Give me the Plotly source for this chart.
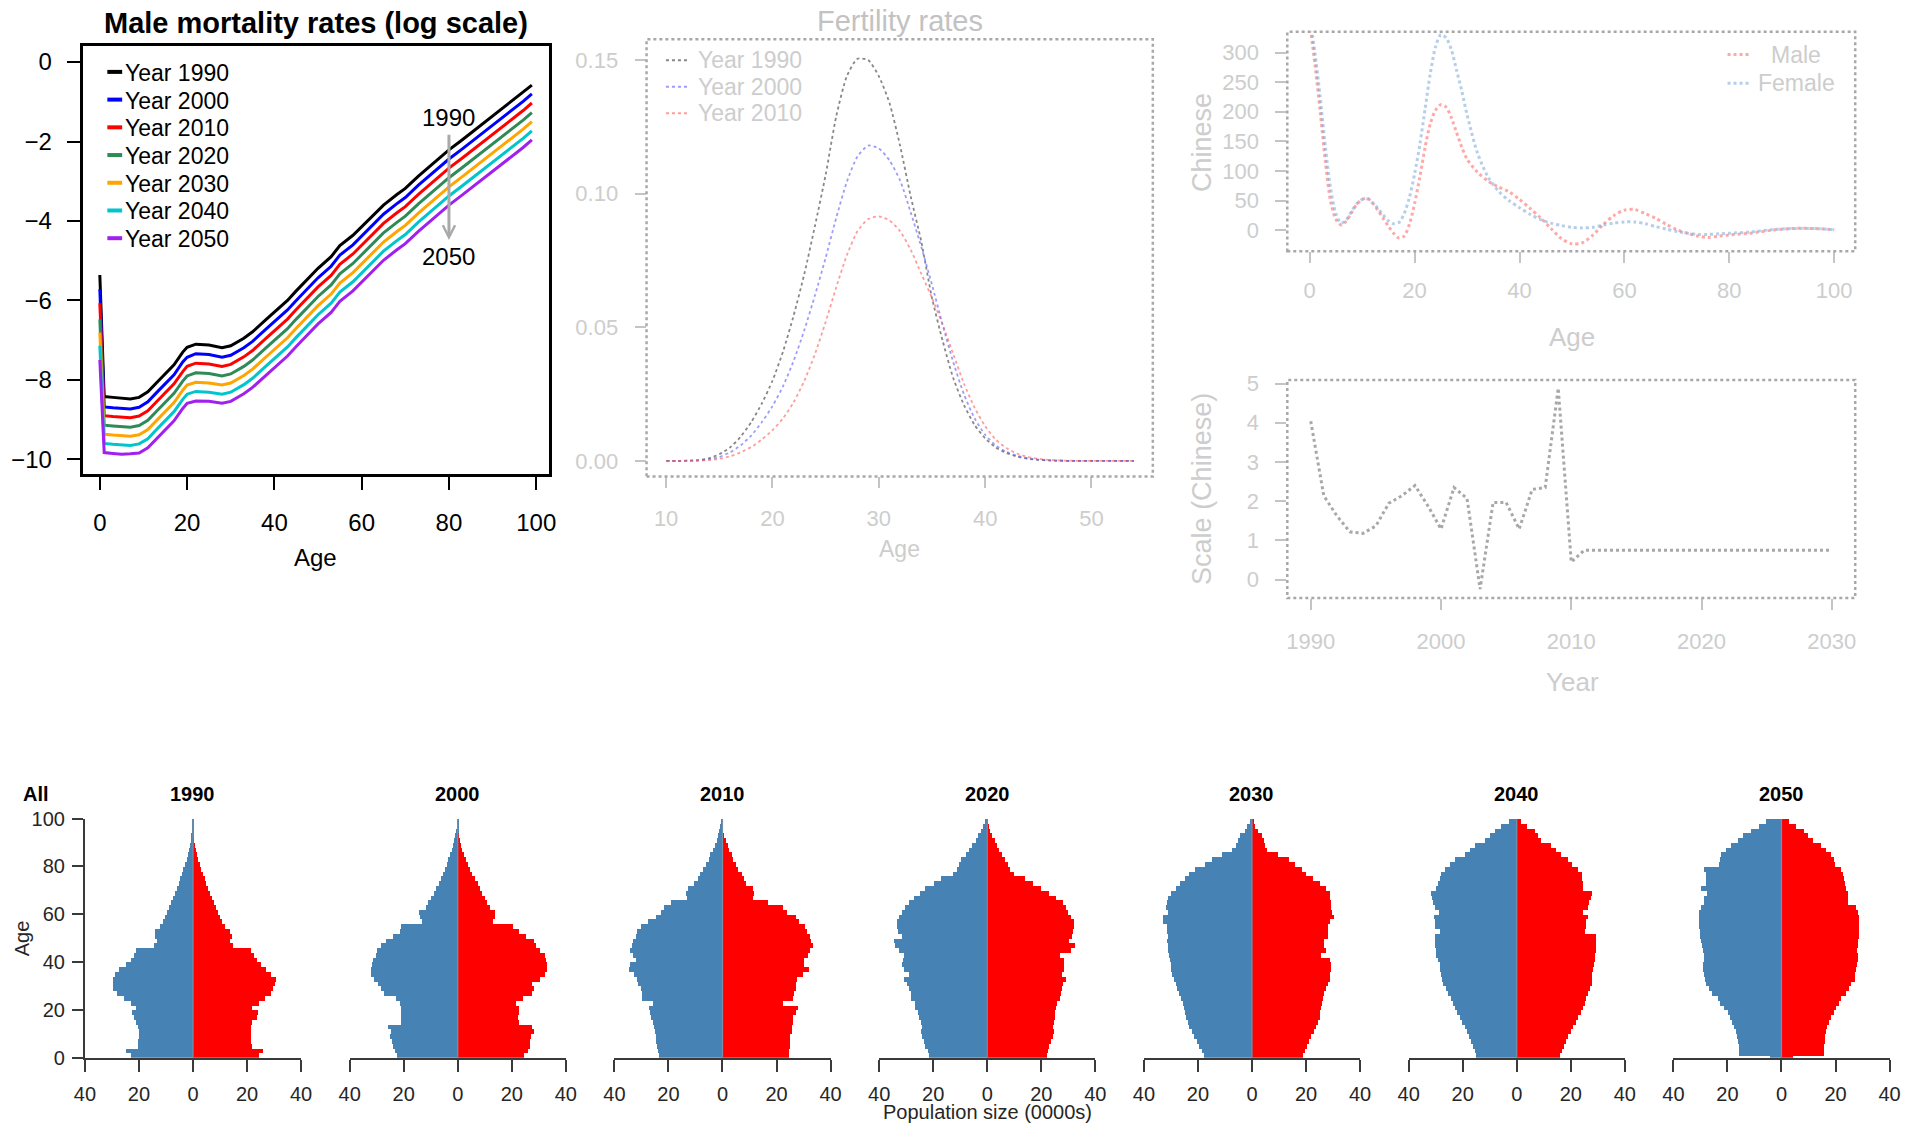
import plotly.graph_objects as go

# Page geometry: positions below are given in final page pixels (1921 x 1131)
# and converted to the figure's paper fractions.
W, H = 1921, 1131
FW, FH = 1921, 1134
BODY_MARGIN = 8
SCALE_X, SCALE_Y = 0.988, 0.980
SHIFT_X, SHIFT_Y = 2.5, 2.0
FONT = "Liberation Sans, Arial, Helvetica, sans-serif"

# ---------------------------------------------------------------- data
# Male log mortality rates by age, one series per year
mort_ages = [0, 1, 3, 5, 7, 9, 11, 13, 15, 17, 19, 20, 22, 25, 28, 30, 33, 35, 38, 40, 43, 45,
             48, 50, 53, 55, 58, 60, 63, 65, 68, 70, 73, 75, 78, 80, 83, 85, 88, 90, 93, 95, 97, 99]
mort_1990 = [-5.36, -8.42, -8.44, -8.46, -8.48, -8.44, -8.30, -8.07, -7.84, -7.62, -7.30, -7.18, -7.10, -7.12,
             -7.19, -7.14, -6.95, -6.79, -6.49, -6.30, -6.00, -5.76, -5.42, -5.19, -4.90, -4.62, -4.36, -4.15,
             -3.83, -3.60, -3.34, -3.18, -2.87, -2.68, -2.40, -2.21, -1.96, -1.79, -1.52, -1.35, -1.10, -0.94,
             -0.77, -0.58]
mort_2000 = [-5.72, -8.68, -8.70, -8.72, -8.73, -8.69, -8.55, -8.32, -8.09, -7.87, -7.55, -7.43, -7.34, -7.36,
             -7.43, -7.38, -7.19, -7.03, -6.73, -6.54, -6.24, -6.00, -5.66, -5.43, -5.14, -4.86, -4.60, -4.38,
             -4.06, -3.83, -3.57, -3.41, -3.10, -2.91, -2.63, -2.44, -2.19, -2.02, -1.75, -1.58, -1.32, -1.16,
             -0.99, -0.80]
mort_2010 = [-6.07, -8.90, -8.92, -8.94, -8.95, -8.91, -8.78, -8.55, -8.32, -8.10, -7.79, -7.66, -7.58, -7.60,
             -7.66, -7.61, -7.42, -7.26, -6.96, -6.77, -6.47, -6.23, -5.89, -5.66, -5.37, -5.09, -4.83, -4.61,
             -4.29, -4.06, -3.80, -3.64, -3.33, -3.14, -2.86, -2.67, -2.42, -2.25, -1.98, -1.81, -1.55, -1.39,
             -1.22, -1.03]
mort_2020 = [-6.48, -9.14, -9.16, -9.18, -9.19, -9.15, -9.02, -8.79, -8.56, -8.34, -8.03, -7.90, -7.82, -7.84,
             -7.90, -7.85, -7.66, -7.50, -7.20, -7.01, -6.71, -6.47, -6.13, -5.90, -5.61, -5.33, -5.07, -4.85,
             -4.53, -4.30, -4.04, -3.88, -3.57, -3.38, -3.10, -2.91, -2.66, -2.49, -2.22, -2.05, -1.79, -1.63,
             -1.46, -1.27]
mort_2030 = [-6.81, -9.37, -9.39, -9.41, -9.42, -9.38, -9.25, -9.02, -8.79, -8.57, -8.26, -8.13, -8.06, -8.08,
             -8.13, -8.08, -7.89, -7.73, -7.43, -7.24, -6.94, -6.70, -6.36, -6.13, -5.84, -5.56, -5.30, -5.08,
             -4.76, -4.53, -4.27, -4.11, -3.80, -3.61, -3.33, -3.14, -2.89, -2.72, -2.45, -2.28, -2.02, -1.86,
             -1.69, -1.50]
mort_2040 = [-7.14, -9.60, -9.62, -9.64, -9.65, -9.61, -9.48, -9.25, -9.02, -8.80, -8.49, -8.36, -8.29, -8.31,
             -8.36, -8.31, -8.12, -7.96, -7.66, -7.47, -7.17, -6.93, -6.59, -6.36, -6.07, -5.79, -5.53, -5.31,
             -4.99, -4.76, -4.50, -4.34, -4.03, -3.84, -3.56, -3.37, -3.12, -2.95, -2.68, -2.51, -2.25, -2.09,
             -1.92, -1.73]
mort_2050 = [-7.50, -9.83, -9.85, -9.87, -9.86, -9.84, -9.71, -9.48, -9.25, -9.03, -8.72, -8.59, -8.53, -8.54,
             -8.59, -8.54, -8.35, -8.19, -7.89, -7.70, -7.40, -7.16, -6.82, -6.59, -6.30, -6.02, -5.76, -5.54,
             -5.22, -4.99, -4.73, -4.57, -4.26, -4.07, -3.79, -3.60, -3.35, -3.18, -2.91, -2.74, -2.48, -2.32,
             -2.15, -1.96]
mort_years = ["1990", "2000", "2010", "2020", "2030", "2040", "2050"]
mort_series = [mort_1990, mort_2000, mort_2010, mort_2020, mort_2030, mort_2040, mort_2050]

# Fertility rates by age of mother (10-54)
fert_ages = list(range(10, 55))
fert_1990 = [0.0, 0.0, 0.0001, 0.0003, 0.0010, 0.0025, 0.0050, 0.0090, 0.0145, 0.0215, 0.0300, 0.0410,
             0.0545, 0.0700, 0.0880, 0.1070, 0.1290, 0.1440, 0.1505, 0.1500, 0.1440, 0.1340, 0.1180, 0.0990,
             0.0820, 0.0610, 0.0450, 0.0310, 0.0210, 0.0135, 0.0085, 0.0050, 0.0030, 0.0016, 0.0008, 0.0004,
             0.0002, 0.0001, 0.0, 0.0, 0.0, 0.0, 0.0, 0.0, 0.0]
fert_2000 = [0.0, 0.0, 0.0001, 0.0002, 0.0006, 0.0015, 0.0032, 0.0058, 0.0095, 0.0145, 0.0205, 0.0280,
             0.0375, 0.0490, 0.0620, 0.0760, 0.0910, 0.1045, 0.1140, 0.1180, 0.1170, 0.1125, 0.1050, 0.0930,
             0.0800, 0.0660, 0.0510, 0.0370, 0.0250, 0.0160, 0.0098, 0.0058, 0.0034, 0.0019, 0.0010, 0.0005,
             0.0002, 0.0001, 0.0, 0.0, 0.0, 0.0, 0.0, 0.0, 0.0]
fert_2010 = [0.0, 0.0, 0.0, 0.0001, 0.0003, 0.0008, 0.0017, 0.0032, 0.0052, 0.0080, 0.0115, 0.0160,
             0.0220, 0.0300, 0.0400, 0.0520, 0.0650, 0.0770, 0.0860, 0.0905, 0.0915, 0.0900, 0.0860, 0.0790,
             0.0700, 0.0610, 0.0510, 0.0400, 0.0290, 0.0200, 0.0130, 0.0080, 0.0048, 0.0028, 0.0015, 0.0008,
             0.0004, 0.0002, 0.0001, 0.0, 0.0, 0.0, 0.0, 0.0, 0.0]

# "Chinese" component by age and sex
chn_ages = [0, 1, 2, 3, 4, 5, 6, 7, 8, 9, 10, 11, 12, 13, 14, 15, 16, 17, 18, 19, 20, 21, 22, 23, 24, 25,
            26, 27, 28, 29, 30, 32, 34, 36, 38, 40, 42, 44, 46, 48, 50, 52, 54, 56, 58, 60, 62, 64, 66, 68,
            70, 72, 74, 76, 78, 80, 84, 88, 92, 96, 100]
chn_male = [350, 280, 200, 115, 48, 18, 9, 16, 30, 44, 52, 54, 46, 34, 20, 7, -5, -13, -10, 10, 45, 90,
            140, 180, 203, 212, 208, 190, 165, 140, 120, 98, 83, 73, 65, 52, 37, 21, 3, -14, -23, -21, -8,
            10, 25, 34, 35, 28, 20, 10, 1, -5, -10, -12, -10, -8, -5, 0, 3, 3, 1]
chn_female = [360, 300, 225, 140, 70, 28, 12, 18, 32, 45, 52, 53, 46, 37, 26, 16, 11, 13, 28, 55, 95, 145,
              205, 265, 310, 330, 325, 305, 270, 235, 195, 130, 90, 66, 50, 38, 27, 18, 12, 8, 5, 4, 5, 9,
              12, 14, 14, 11, 6, 2, -2, -5, -7, -7, -6, -5, -3, 1, 3, 3, 1]

# "Chinese" scale by calendar year
scale_years = list(range(1990, 2031))
scale_vals = [4.04, 2.14, 1.63, 1.22, 1.18, 1.37, 1.95, 2.14, 2.40, 1.88, 1.29, 2.35, 2.07, -0.24, 1.97,
              1.97, 1.29, 2.30, 2.35, 4.88, 0.45, 0.75, 0.75, 0.75, 0.75, 0.75, 0.75, 0.75, 0.75, 0.75,
              0.75, 0.75, 0.75, 0.75, 0.75, 0.75, 0.75, 0.75, 0.75, 0.75, 0.75]

# Population pyramids (0000s): age 0, age 1, then two-year groups 2-3 ... 98-99
pyr_bins = [0, 1] + list(range(2, 100, 2))
pyr_years = ["1990", "2000", "2010", "2020", "2030", "2040", "2050"]
pyr_male = {
    "1990": [23.0, 23.0, 25.0, 20.5, 20.2, 20.0, 20.0, 20.5, 21.0, 22.0, 22.5, 21.3, 23.0, 25.5, 28.0, 29.5,
             29.8, 29.8, 29.0, 27.5, 25.0, 23.0, 22.0, 21.0, 14.5, 13.5, 14.2, 14.0, 12.3, 11.0, 10.3, 9.5,
             9.0, 8.0, 7.3, 6.7, 6.0, 5.3, 4.7, 4.1, 3.6, 3.0, 2.4, 1.9, 1.4, 1.1, 0.8, 0.6, 0.4, 0.3, 0.2],
    "2000": [22.6, 22.6, 23.5, 24.2, 24.5, 25.1, 24.8, 26.0, 21.1, 21.0, 21.3, 21.0, 21.5, 23.0, 27.3, 28.6,
             29.5, 31.0, 32.3, 32.3, 31.8, 31.5, 30.5, 30.0, 28.5, 26.5, 24.0, 21.5, 21.0, 13.5, 14.0, 14.3,
             12.0, 11.0, 10.0, 8.8, 8.0, 7.0, 6.3, 5.6, 4.9, 4.2, 3.6, 2.9, 2.3, 1.8, 1.4, 1.0, 0.6, 0.4, 0.2],
    "2010": [23.3, 23.3, 23.8, 24.1, 24.3, 24.6, 25.0, 25.3, 25.7, 26.2, 26.5, 27.0, 25.5, 29.5, 29.8, 30.0,
             31.0, 31.5, 32.5, 34.5, 34.0, 31.7, 33.0, 34.2, 33.3, 33.0, 32.0, 31.5, 30.0, 27.4, 24.5, 22.5,
             21.5, 19.0, 13.0, 13.5, 12.6, 10.5, 8.9, 8.3, 7.0, 6.0, 5.0, 4.3, 3.5, 2.7, 2.0, 1.5, 1.0, 0.6, 0.4],
    "2020": [21.6, 21.6, 22.0, 22.8, 23.5, 24.1, 24.5, 24.1, 24.5, 25.3, 25.5, 26.5, 26.5, 28.0, 28.1, 29.0,
             29.5, 30.9, 29.0, 30.9, 31.5, 31.3, 30.9, 32.7, 34.0, 34.6, 31.5, 33.0, 33.3, 33.3, 32.7, 31.5,
             30.5, 29.0, 27.0, 25.0, 23.0, 19.8, 17.0, 12.5, 11.1, 10.5, 9.5, 7.8, 6.8, 5.4, 4.0, 3.2, 2.4, 1.5, 0.8],
    "2030": [17.9, 17.9, 18.6, 19.5, 20.3, 21.4, 22.3, 23.2, 23.8, 24.5, 24.9, 25.3, 25.6, 26.3, 27.0, 27.8,
             28.3, 28.8, 29.5, 30.0, 30.1, 30.3, 30.8, 31.0, 31.3, 31.5, 31.0, 31.5, 31.5, 33.1, 33.0, 31.3,
             31.9, 31.5, 31.0, 30.0, 28.2, 26.5, 25.0, 23.2, 21.0, 17.5, 15.0, 11.0, 7.5, 6.0, 5.2, 4.5, 2.8, 1.8, 0.8],
    "2040": [15.1, 15.1, 15.7, 16.3, 17.1, 17.9, 18.6, 19.4, 20.3, 21.3, 22.1, 22.9, 23.6, 24.4, 25.5, 26.2,
             27.4, 27.8, 28.1, 28.4, 28.7, 29.2, 29.9, 30.0, 30.3, 30.3, 30.5, 28.7, 30.5, 30.5, 30.8, 29.0,
             30.3, 31.1, 31.5, 31.8, 29.9, 29.3, 28.7, 28.1, 26.5, 25.0, 23.1, 19.4, 17.5, 15.7, 12.0, 10.0, 8.3, 5.8, 3.0],
    "2050": [4.0, 15.4, 15.4, 15.4, 15.9, 16.3, 16.8, 17.3, 18.0, 18.8, 19.8, 21.0, 22.5, 23.5, 25.5, 26.8,
             27.8, 28.2, 28.6, 29.0, 29.0, 28.4, 28.4, 29.0, 29.3, 29.6, 29.9, 29.9, 30.2, 30.2, 30.2, 30.2,
             29.5, 28.4, 28.4, 27.5, 29.6, 27.8, 27.8, 27.8, 28.4, 22.8, 22.5, 22.2, 20.5, 18.5, 16.0, 14.0, 11.1, 8.0, 5.6],
}
pyr_female = {
    "1990": [24.4, 24.4, 26.0, 21.9, 21.5, 21.3, 21.3, 21.5, 22.0, 23.5, 24.0, 22.0, 24.5, 26.5, 28.7, 29.5,
             30.5, 30.6, 29.0, 27.0, 25.0, 23.5, 22.5, 21.3, 14.8, 13.5, 14.4, 13.5, 11.8, 10.8, 9.8, 9.3,
             8.5, 7.8, 7.0, 6.3, 5.6, 4.9, 4.3, 3.6, 3.0, 2.5, 2.0, 1.5, 1.1, 0.7, 0.2, 0.0, 0.0, 0.0, 0.0],
    "2000": [24.4, 24.4, 25.8, 26.5, 26.7, 27.0, 28.0, 27.5, 22.5, 22.3, 22.7, 22.5, 21.5, 24.0, 27.5, 28.0,
             27.3, 30.5, 32.0, 32.8, 32.8, 32.5, 32.0, 30.5, 29.0, 28.0, 25.0, 22.5, 20.5, 13.1, 13.5, 13.8,
             12.0, 10.8, 9.9, 9.0, 8.0, 7.2, 6.2, 5.3, 4.5, 3.6, 2.8, 2.2, 1.6, 1.1, 0.5, 0.1, 0.0, 0.0, 0.0],
    "2010": [24.8, 24.8, 24.9, 25.0, 25.2, 25.3, 25.8, 26.0, 26.3, 26.3, 27.3, 28.0, 22.5, 26.3, 26.8, 27.3,
             27.5, 27.8, 30.0, 32.0, 30.5, 30.2, 31.9, 32.5, 33.5, 33.0, 32.5, 31.5, 30.6, 28.5, 27.3, 24.0,
             22.5, 17.0, 11.5, 11.7, 11.5, 9.0, 8.0, 7.2, 6.0, 5.3, 4.2, 3.5, 2.6, 2.2, 1.4, 0.8, 0.2, 0.0, 0.0],
    "2020": [22.2, 22.2, 22.5, 23.0, 23.5, 24.5, 24.7, 24.5, 24.9, 25.0, 25.3, 25.5, 25.9, 27.0, 27.4, 27.8,
             28.0, 29.4, 27.8, 28.4, 28.4, 28.4, 27.0, 31.0, 32.5, 30.2, 31.5, 31.8, 32.1, 32.0, 30.9, 30.0,
             29.4, 28.0, 25.5, 23.0, 20.0, 17.0, 14.0, 9.9, 8.5, 7.6, 6.8, 5.6, 4.5, 3.5, 2.8, 2.0, 1.2, 0.7, 0.3],
    "2030": [18.8, 18.8, 19.6, 20.4, 21.2, 21.9, 22.8, 23.7, 24.3, 25.0, 25.3, 25.6, 25.9, 26.2, 26.8, 27.4,
             28.0, 28.7, 29.0, 29.3, 29.3, 29.0, 25.5, 27.4, 26.8, 26.8, 28.1, 28.1, 28.1, 29.0, 30.5, 29.5,
             29.3, 29.3, 29.0, 28.7, 27.5, 25.0, 22.5, 20.0, 18.5, 16.0, 13.8, 9.5, 5.5, 4.9, 4.6, 3.5, 2.2, 1.2, 0.5],
    "2040": [15.8, 15.8, 16.6, 17.4, 18.2, 18.9, 19.8, 20.8, 21.7, 22.6, 23.5, 24.5, 25.1, 25.7, 26.3, 26.9,
             27.6, 27.8, 27.9, 28.2, 28.5, 28.8, 29.0, 29.2, 29.4, 29.4, 29.4, 25.1, 25.4, 25.7, 26.3, 24.5,
             26.3, 26.8, 27.3, 27.6, 24.5, 24.5, 24.2, 23.9, 22.5, 20.5, 18.9, 16.4, 14.5, 12.7, 9.0, 7.8, 6.6, 3.5, 1.5],
    "2050": [4.3, 16.0, 16.0, 16.0, 16.2, 16.3, 16.7, 17.0, 17.7, 18.5, 19.5, 20.4, 21.5, 22.2, 24.1, 25.0,
             25.9, 27.2, 27.5, 27.8, 28.0, 28.6, 28.6, 28.1, 28.4, 28.4, 29.0, 29.0, 29.0, 29.0, 29.0, 28.5,
             27.8, 24.7, 24.7, 24.7, 24.1, 23.5, 23.2, 22.8, 22.2, 19.8, 19.5, 18.5, 16.5, 14.8, 11.7, 10.0, 8.6, 5.6, 3.1],
}

# ---------------------------------------------------------------- helpers (page pixels -> paper fractions)
def px(x):
    return ((x - SHIFT_X) / SCALE_X - BODY_MARGIN) / FW


def py(y):
    return 1 - ((y - SHIFT_Y) / SCALE_Y - BODY_MARGIN) / FH


def xdom(left, right):
    return [px(left), px(right)]


def ydom(top, bottom):
    return [py(bottom), py(top)]


fig = go.Figure()
annotations = []
shapes = []


def label(text, x, y, size, color="black", bold=False, angle=0, xanchor="center"):
    annotations.append(dict(
        text=f"<b>{text}</b>" if bold else text, x=px(x), y=py(y), xref="paper", yref="paper",
        showarrow=False, xanchor=xanchor, yanchor="middle", textangle=angle,
        font=dict(family=FONT, size=size, color=color)))


def key_line(x0, x1, y, color, width, dash="solid"):
    shapes.append(dict(type="line", xref="paper", yref="paper", x0=px(x0), x1=px(x1),
                       y0=py(y), y1=py(y), line=dict(color=color, width=width, dash=dash)))


# ---------------------------------------------------------------- mortality panel
mort_colors = ["#000000", "#0000ff", "#ff0000", "#2e8b57", "#ffa500", "#00c5cd", "#a020f0"]
for yr, vals, col in zip(mort_years, mort_series, mort_colors):
    fig.add_trace(go.Scatter(x=mort_ages, y=vals, mode="lines", name=f"Year {yr}",
                             line=dict(color=col, width=3), xaxis="x", yaxis="y"))

solid_axis = dict(showline=True, mirror=True, linecolor="black", linewidth=3, ticks="outside",
                  ticklen=13, tickwidth=2, tickcolor="black", showgrid=False, zeroline=False,
                  tickfont=dict(family=FONT, size=24, color="black"))
layout_axes = {}
layout_axes["xaxis"] = dict(domain=xdom(82, 548), range=[-3.94, 102.9], tickvals=[0, 20, 40, 60, 80, 100],
                            anchor="y", ticklabelstandoff=12, **solid_axis)
layout_axes["yaxis"] = dict(domain=ydom(45, 473), range=[-10.38, 0.40], tickvals=[0, -2, -4, -6, -8, -10],
                            anchor="x", ticklabelstandoff=10, **solid_axis)

label("Male mortality rates (log scale)", 315, 22, 29, bold=True)
label("Age", 315, 556, 24)
for i, (yr, col) in enumerate(zip(mort_years, mort_colors)):
    yy = 71.7 + 27.7 * i
    key_line(106.7, 121.5, yy - 1, col, 4)
    label(f"Year {yr}", 122, yy, 23, xanchor="left")

annotations.append(dict(x=80, y=-4.48, ax=80, ay=-1.79, xref="x", yref="y", axref="x", ayref="y",
                        text="", showarrow=True, arrowhead=5, arrowsize=0.8, arrowwidth=3,
                        arrowcolor="#a9a9a9", standoff=0, startstandoff=0))
annotations.append(dict(x=80, y=-1.385, xref="x", yref="y", text="1990", showarrow=False,
                        font=dict(family=FONT, size=24, color="black")))
annotations.append(dict(x=80, y=-4.89, xref="x", yref="y", text="2050", showarrow=False,
                        font=dict(family=FONT, size=24, color="black")))

# ---------------------------------------------------------------- faded panels
FADE_TXT = "#cdcdcd"
FADE_TICK = "#c4c4c4"
FADE_BOX = "#a8a8a8"


def faded_axis(**kw):
    d = dict(showline=False, ticks="outside", ticklen=11, tickwidth=1.5, tickcolor=FADE_TICK,
             showgrid=False, zeroline=False, tickfont=dict(family=FONT, size=22, color=FADE_TXT))
    d.update(kw)
    return d


def dotted_box(xa, ya):
    shapes.append(dict(type="rect", xref=f"{xa} domain", yref=f"{ya} domain", x0=0, x1=1, y0=0, y1=1,
                       line=dict(color=FADE_BOX, width=2.5, dash="dot")))


# Fertility rates
fert_colors = ["rgba(95,95,95,0.75)", "rgba(90,90,255,0.6)", "rgba(255,90,90,0.6)"]
for yr, vals, col in zip(["1990", "2000", "2010"], [fert_1990, fert_2000, fert_2010], fert_colors):
    fig.add_trace(go.Scatter(x=fert_ages, y=vals, mode="lines", name=f"Year {yr}",
                             line=dict(color=col, width=1.8, dash="dot", shape="spline", smoothing=0.6),
                             xaxis="x2", yaxis="y2"))
layout_axes["xaxis2"] = faded_axis(domain=xdom(645.6, 1151.6), range=[8.16, 55.77],
                                   tickvals=[10, 20, 30, 40, 50], anchor="y2", ticklabelstandoff=11)
layout_axes["yaxis2"] = faded_axis(domain=ydom(38, 475), range=[-0.0058, 0.1578],
                                   tickvals=[0, 0.05, 0.10, 0.15], ticktext=["0.00", "0.05", "0.10", "0.15"],
                                   anchor="x2", ticklabelstandoff=12)
dotted_box("x2", "y2")
label("Fertility rates", 898.6, 20, 29, color="#c2c2c2")
label("Age", 898.6, 548, 23, color=FADE_TXT)
for i, (yr, col) in enumerate(zip(["1990", "2000", "2010"], fert_colors)):
    yy = 59 + 26.5 * i
    key_line(665, 687, yy, col, 2, "dot")
    label(f"Year {yr}", 695, yy, 23, color=FADE_TXT, xanchor="left")

# Chinese component by age
chn_colors = ["rgba(255,110,110,0.6)", "rgba(120,165,215,0.55)"]
for name, vals, col in zip(["Male", "Female"], [chn_male, chn_female], chn_colors):
    fig.add_trace(go.Scatter(x=chn_ages, y=vals, mode="lines", name=name,
                             line=dict(color=col, width=3, dash="dot", shape="spline", smoothing=0.8),
                             xaxis="x3", yaxis="y3"))
layout_axes["xaxis3"] = faded_axis(domain=xdom(1286, 1853.6), range=[-4.27, 104],
                                   tickvals=[0, 20, 40, 60, 80, 100], anchor="y3", ticklabelstandoff=8)
layout_axes["yaxis3"] = faded_axis(domain=ydom(30.6, 250), range=[-35.5, 335],
                                   tickvals=[0, 50, 100, 150, 200, 250, 300], anchor="x3", ticklabelstandoff=12)
dotted_box("x3", "y3")
label("Chinese", 1200.6, 141, 27, color=FADE_TXT, angle=-90)
label("Age", 1570.6, 335.7, 26, color=FADE_TXT)
for i, (name, col) in enumerate(zip(["Male", "Female"], chn_colors)):
    yy = 53.4 + 28.6 * i
    key_line(1726, 1750, yy, col, 3, "dot")
    label(name, 1794.5, yy, 23, color=FADE_TXT)

# Chinese scale by year
fig.add_trace(go.Scatter(x=scale_years, y=scale_vals, mode="lines", name="Scale",
                         line=dict(color="rgba(110,110,110,0.6)", width=3, dash="dot"),
                         xaxis="x4", yaxis="y4"))
layout_axes["xaxis4"] = faded_axis(domain=xdom(1286, 1853.6), range=[1988.2, 2031.8],
                                   tickvals=[1990, 2000, 2010, 2020, 2030], anchor="y4", ticklabelstandoff=12)
layout_axes["yaxis4"] = faded_axis(domain=ydom(378.6, 596.6), range=[-0.47, 5.09],
                                   tickvals=[0, 1, 2, 3, 4, 5], anchor="x4", ticklabelstandoff=12)
dotted_box("x4", "y4")
label("Scale (Chinese)", 1200.6, 487.6, 27, color=FADE_TXT, angle=-90)
label("Year", 1570.6, 680, 26, color=FADE_TXT)

# ---------------------------------------------------------------- population pyramids
bin_edges = pyr_bins + [100]
bin_width = [bin_edges[k + 1] - bin_edges[k] for k in range(len(pyr_bins))]
bin_mid = [b + w / 2 for b, w in zip(pyr_bins, bin_width)]

PYR_TXT = "#262626"
for i, yr in enumerate(pyr_years):
    n = 5 + i
    xa, ya = f"x{n}", f"y{n}"
    fig.add_trace(go.Bar(y=bin_mid, x=[-v for v in pyr_male[yr]], width=bin_width, orientation="h",
                         marker=dict(color="#4682b4", line=dict(width=0)), name="Male",
                         xaxis=xa, yaxis=ya))
    fig.add_trace(go.Bar(y=bin_mid, x=pyr_female[yr], width=bin_width, orientation="h",
                         marker=dict(color="#ff0000", line=dict(width=0)), name="Female",
                         xaxis=xa, yaxis=ya))
    centre = 192.3 + 264.6 * i
    layout_axes[f"xaxis{n}"] = dict(
        domain=xdom(centre - 108, centre + 108), range=[-40, 40], anchor=ya,
        tickvals=[-40, -20, 0, 20, 40], ticktext=["40", "20", "0", "20", "40"],
        showline=True, linecolor="#3a3a3a", linewidth=2, ticks="outside", ticklen=12, tickwidth=2,
        tickcolor="#3a3a3a", showgrid=False, zeroline=False, ticklabelstandoff=5,
        tickfont=dict(family=FONT, size=20, color=PYR_TXT))
    yax = dict(domain=ydom(817, 1056), range=[0, 100], anchor=xa, showgrid=False, zeroline=False)
    if i == 0:
        yax.update(showline=True, linecolor="#3a3a3a", linewidth=2, ticks="outside", ticklen=11,
                   tickwidth=2, tickcolor="#3a3a3a", tickvals=[0, 20, 40, 60, 80, 100],
                   ticklabelstandoff=3, tickfont=dict(family=FONT, size=20, color=PYR_TXT))
    else:
        yax.update(visible=False)
    layout_axes[f"yaxis{n}"] = yax
    shapes.append(dict(type="line", xref=xa, yref=ya, x0=0, x1=0, y0=0, y1=100,
                       line=dict(color="#7890a8", width=1.2)))
    label(yr, centre, 792.6, 20, bold=True)

label("All", 35.5, 792.6, 20, bold=True)
label("Age", 21, 937, 20, color=PYR_TXT, angle=-90)
label("Population size (0000s)", 986, 1110, 20, color=PYR_TXT)

fig.update_layout(
    width=FW, height=FH, margin=dict(l=0, r=0, t=0, b=0, pad=0),
    paper_bgcolor="white", plot_bgcolor="white", showlegend=False,
    barmode="overlay", bargap=0, bargroupgap=0,
    font=dict(family=FONT, color="black"),
    annotations=annotations, shapes=shapes, **layout_axes)

fig.write_html("out.html")
